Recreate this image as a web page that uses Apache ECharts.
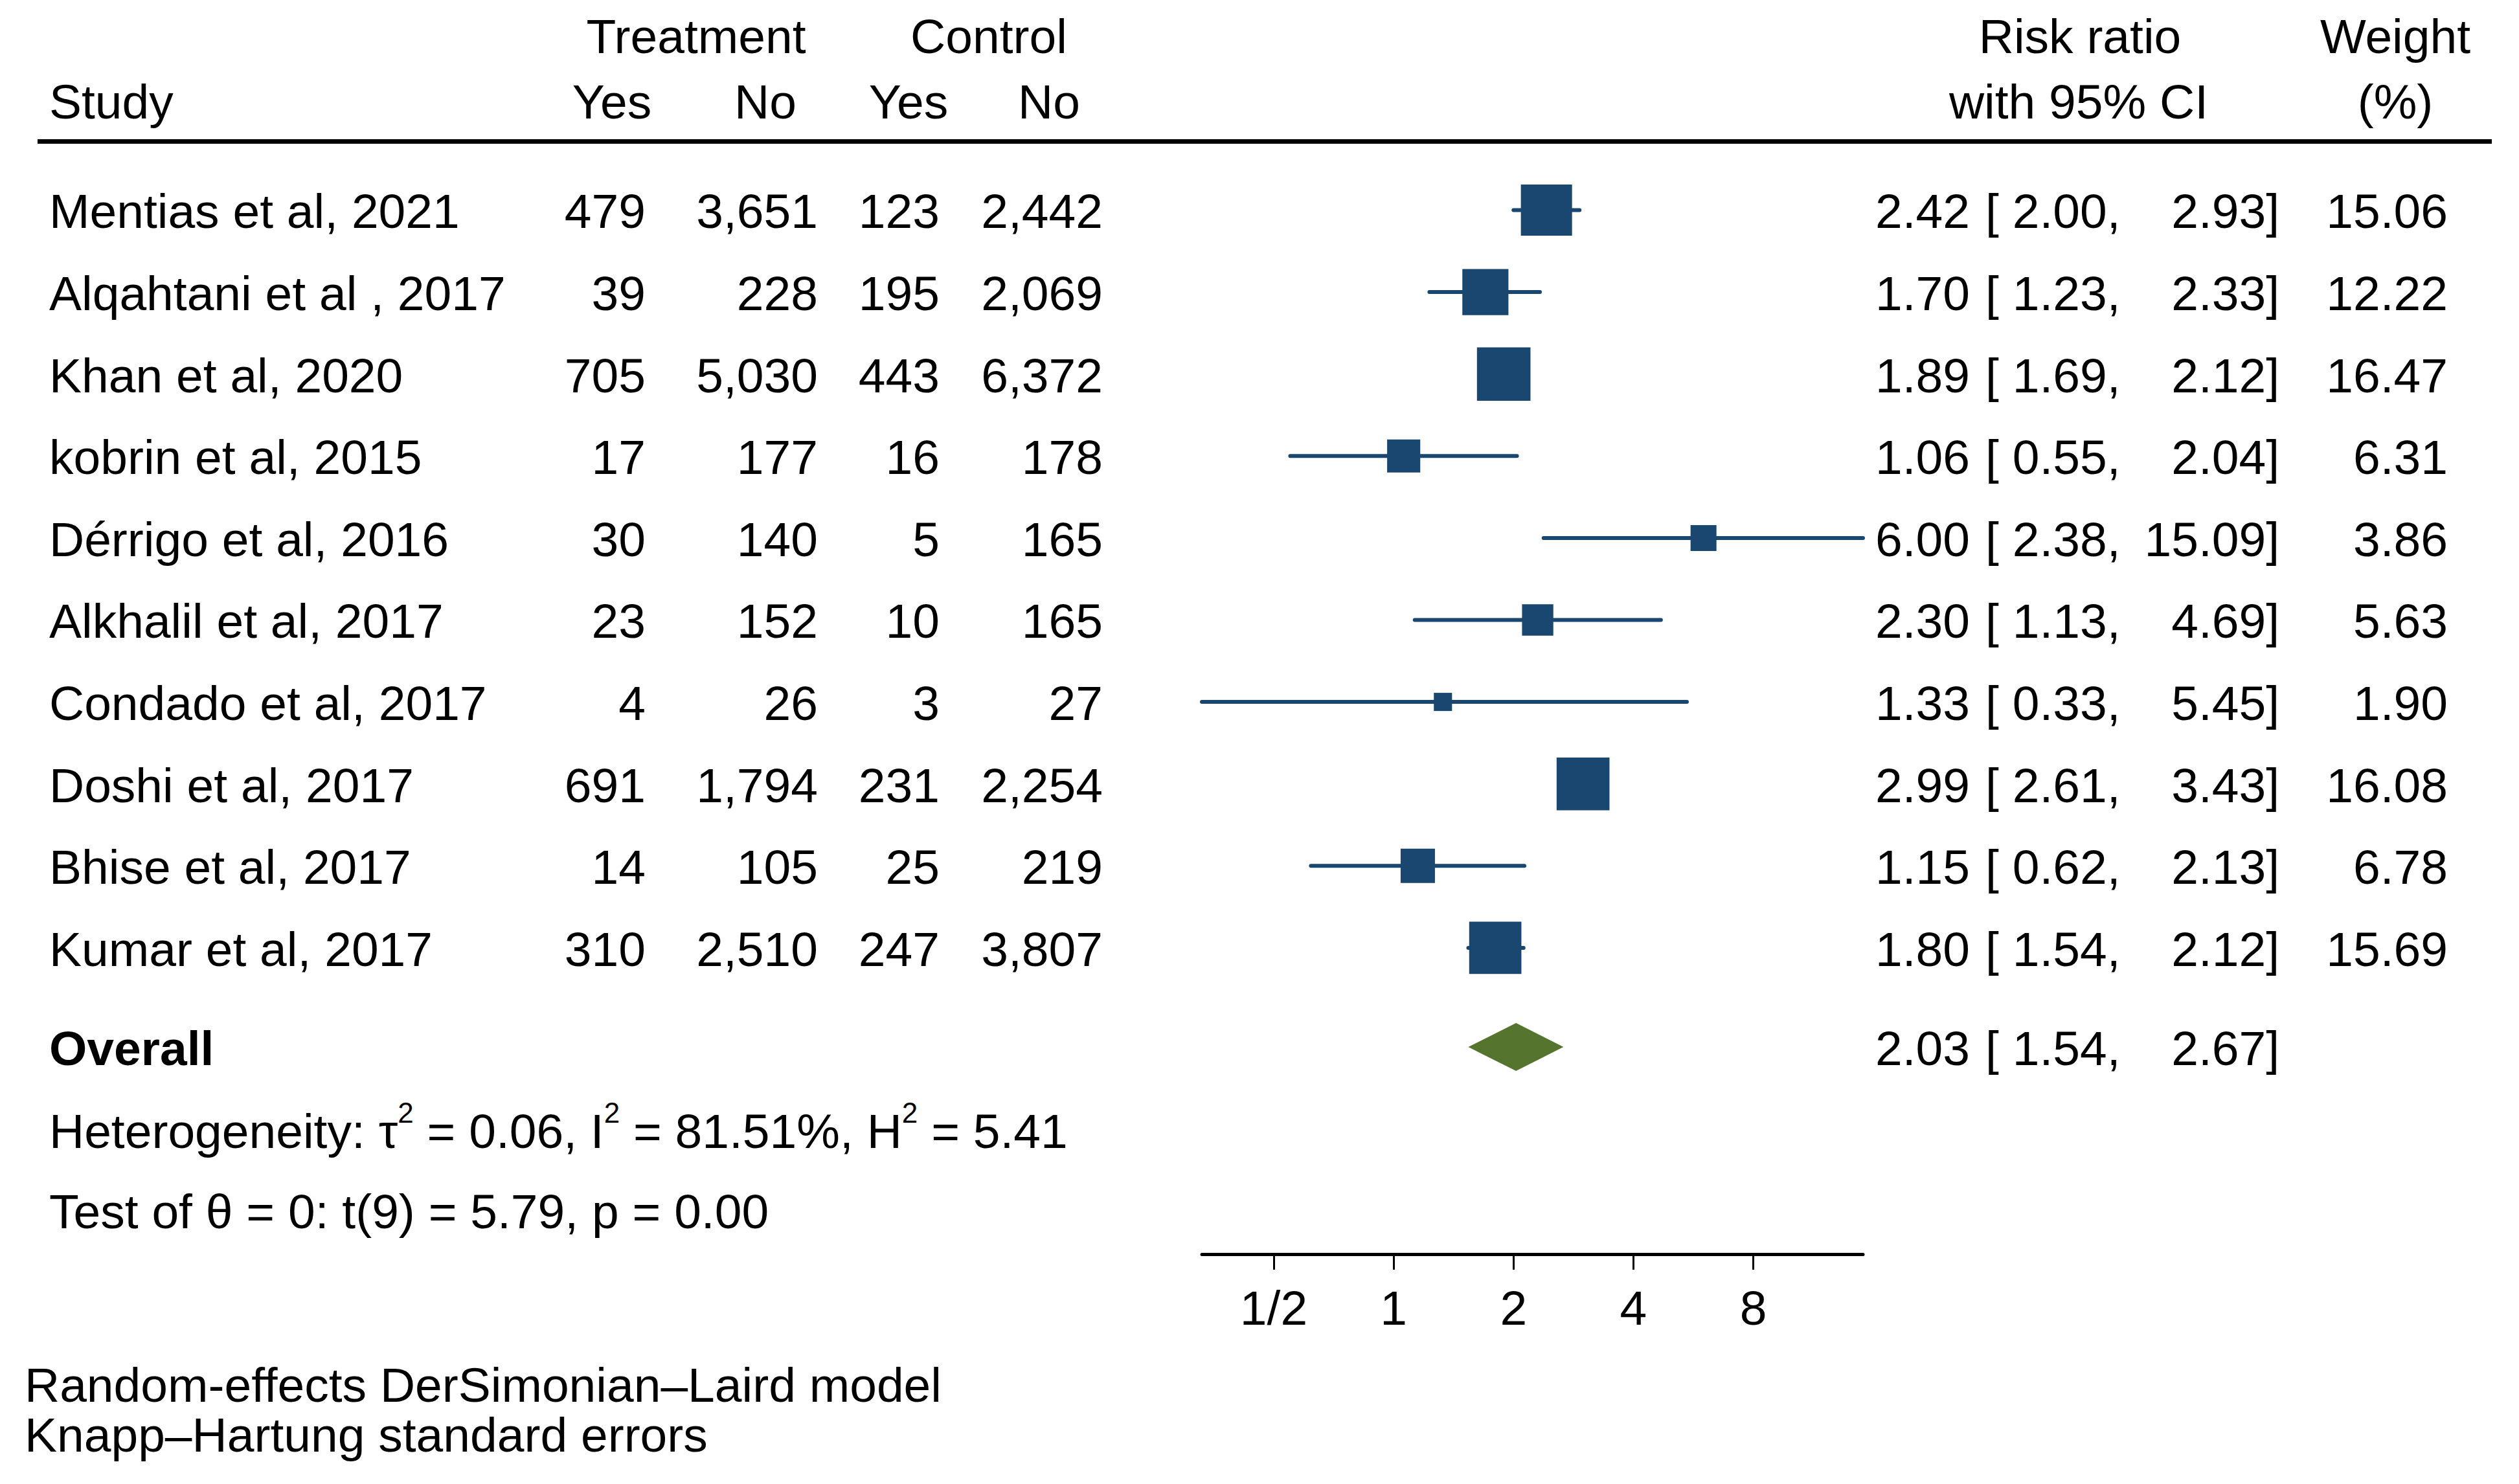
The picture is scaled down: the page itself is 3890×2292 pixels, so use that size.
<!DOCTYPE html>
<html>
<head>
<meta charset="utf-8">
<script src="https://cdn.jsdelivr.net/npm/echarts@6/dist/echarts.min.js"></script>
<style>
html,body{margin:0;padding:0;background:#ffffff;}
#chart{width:3890px;height:2292px;}
</style>
</head>
<body>
<div id="chart"></div>
<script>
// ---------------- data ----------------
const studies = ['Mentias et al, 2021','Alqahtani et al , 2017','Khan et al, 2020','kobrin et al, 2015','Dérrigo et al, 2016','Alkhalil et al, 2017','Condado et al, 2017','Doshi et al, 2017','Bhise et al, 2017','Kumar et al, 2017'];
const treatYes = [479, 39, 705, 17, 30, 23, 4, 691, 14, 310];
const treatNo  = [3651, 228, 5030, 177, 140, 152, 26, 1794, 105, 2510];
const ctrlYes  = [123, 195, 443, 16, 5, 10, 3, 231, 25, 247];
const ctrlNo   = [2442, 2069, 6372, 178, 165, 165, 27, 2254, 219, 3807];
const rr       = [2.42, 1.70, 1.89, 1.06, 6.00, 2.30, 1.33, 2.99, 1.15, 1.80];
const rrLow    = [2.00, 1.23, 1.69, 0.55, 2.38, 1.13, 0.33, 2.61, 0.62, 1.54];
const rrHigh   = [2.93, 2.33, 2.12, 2.04, 15.09, 4.69, 5.45, 3.43, 2.13, 2.12];
const weight   = [15.06, 12.22, 16.47, 6.31, 3.86, 5.63, 1.90, 16.08, 6.78, 15.69];
const overallRR = [2.03, 1.54, 2.67];   // estimate, low, high
const tickValues = [0.5, 1, 2, 4, 8];
const tickLabels = ['1/2', '1', '2', '4', '8'];
const hetStats = ['0.06', '81.51%', '5.41']; // tau2, I2, H2
const testText = 'Test of θ = 0: t(9) = 5.79, p = 0.00';
const notes = ['Random-effects DerSimonian–Laird model', 'Knapp–Hartung standard errors'];

// ---------------- layout / style ----------------
const FF = '"Liberation Sans", Arial, Helvetica, sans-serif';
const FS = 75;
const FONT = FS + 'px ' + FF;
const BOLD = 'bold ' + FS + 'px ' + FF;
const NAVY = '#1a476f';
const GREEN = '#55752f';
const ROW_OVERALL = 10.21, ROW_HET = 11.22, ROW_TEST = 12.2;
const TEXT_DY = 2;
const SQ = 20.36;        // square side per sqrt(weight)
const DIAMOND_HALF_H = 37;

const COL = {study: 76, tYes: 997, tNo: 1263, cYes: 1451, cNo: 1703,
             est: 3042, lo: 3066, hi: 3520, wt: 3780};

const fmtInt = v => v.toLocaleString('en-US');
const f2 = v => v.toFixed(2);

function txt(text, x, y, align, font) {
  return {type: 'text', style: {text: text, x: x, y: y, align: align, verticalAlign: 'middle', font: font || FONT, fill: '#000'}};
}

const chart = echarts.init(document.getElementById('chart'), null, {renderer: 'svg'});

const gridTop = 197.9, gridH = 1739.1;

const option = {
  backgroundColor: '#ffffff',
  animation: false,
  grid: {left: 1856, width: 1021, top: gridTop, height: gridH, containLabel: false},
  xAxis: {
    type: 'log', logBase: 2, min: 0.33, max: 15.09,
    axisLine: {show: true, onZero: false, lineStyle: {color: '#000', width: 5}},
    axisTick: {show: true, length: 24, customValues: tickValues, lineStyle: {color: '#000', width: 3}},
    axisLabel: {
      show: true, customValues: tickValues, margin: 45, color: '#000', fontSize: FS, fontFamily: FF,
      formatter: function (v) {
        let best = 0;
        tickValues.forEach((t, k) => { if (Math.abs(Math.log(t) - Math.log(v)) < Math.abs(Math.log(tickValues[best]) - Math.log(v))) best = k; });
        return tickLabels[best];
      }
    },
    splitLine: {show: false}
  },
  yAxis: {type: 'value', inverse: true, min: -1, max: 12.737, show: false},
  graphic: [
    {type: 'line', shape: {x1: 58, y1: 218.5, x2: 3848, y2: 218.5}, style: {stroke: '#000', lineWidth: 7}},
    txt('Treatment', 1075, 56, 'center'),
    txt('Control', 1527, 56, 'center'),
    txt('Risk ratio', 3212, 56, 'center'),
    txt('Weight', 3699, 56, 'center'),
    txt('Study', 76, 157, 'left'),
    txt('Yes', 945, 157, 'center'),
    txt('No', 1182, 157, 'center'),
    txt('Yes', 1403, 157, 'center'),
    txt('No', 1620, 157, 'center'),
    txt('with 95% CI', 3210, 157, 'center'),
    txt('(%)', 3699, 157, 'center'),
    txt(notes[0], 38, 2139, 'left'),
    txt(notes[1], 38, 2216, 'left')
  ],
  series: [
    {
      // confidence intervals and weight squares
      type: 'custom', clip: false,
      data: studies.map((s, i) => [rr[i], rrLow[i], rrHigh[i], weight[i], i]),
      encode: {x: [0, 1, 2], y: 4},
      renderItem: function (params, api) {
        const y = api.value(4);
        const pL = api.coord([api.value(1), y]);
        const pH = api.coord([api.value(2), y]);
        const pC = api.coord([api.value(0), y]);
        const side = SQ * Math.sqrt(api.value(3));
        return {type: 'group', children: [
          {type: 'line', shape: {x1: pL[0], y1: pL[1], x2: pH[0], y2: pH[1]}, style: {stroke: NAVY, lineWidth: 6, lineCap: 'round'}},
          {type: 'rect', shape: {x: pC[0] - side / 2, y: pC[1] - side / 2, width: side, height: side}, style: {fill: NAVY}}
        ]};
      }
    },
    {
      // overall diamond
      type: 'custom', clip: false,
      data: [[overallRR[0], overallRR[1], overallRR[2], ROW_OVERALL]],
      encode: {x: [0, 1, 2], y: 3},
      renderItem: function (params, api) {
        const y = api.value(3);
        const pL = api.coord([api.value(1), y]);
        const pH = api.coord([api.value(2), y]);
        const pC = api.coord([api.value(0), y]);
        return {type: 'polygon', shape: {points: [[pL[0], pL[1]], [pC[0], pC[1] - DIAMOND_HALF_H], [pH[0], pH[1]], [pC[0], pC[1] + DIAMOND_HALF_H]]}, style: {fill: GREEN}};
      }
    },
    {
      // study table text
      type: 'custom', clip: false, silent: true,
      data: studies.map((s, i) => [1, i]),
      encode: {x: 0, y: 1},
      renderItem: function (params, api) {
        const i = params.dataIndex;
        const y = api.coord([1, api.value(1)])[1] + TEXT_DY;
        return {type: 'group', children: [
          txt(studies[i], COL.study, y, 'left'),
          txt(fmtInt(treatYes[i]), COL.tYes, y, 'right'),
          txt(fmtInt(treatNo[i]), COL.tNo, y, 'right'),
          txt(fmtInt(ctrlYes[i]), COL.cYes, y, 'right'),
          txt(fmtInt(ctrlNo[i]), COL.cNo, y, 'right'),
          txt(f2(rr[i]), COL.est, y, 'right'),
          txt('[ ' + f2(rrLow[i]) + ',', COL.lo, y, 'left'),
          txt(f2(rrHigh[i]) + ']', COL.hi, y, 'right'),
          txt(f2(weight[i]), COL.wt, y, 'right')
        ]};
      }
    },
    {
      // overall / heterogeneity / test rows
      type: 'custom', clip: false, silent: true,
      data: [[1, ROW_OVERALL]],
      encode: {x: 0, y: 1},
      renderItem: function (params, api) {
        const yO = api.coord([1, ROW_OVERALL])[1] + TEXT_DY;
        const yH = api.coord([1, ROW_HET])[1] + TEXT_DY;
        const yT = api.coord([1, ROW_TEST])[1] + TEXT_DY;
        return {type: 'group', children: [
          txt('Overall', COL.study, yO, 'left', BOLD),
          txt(f2(overallRR[0]), COL.est, yO, 'right'),
          txt('[ ' + f2(overallRR[1]) + ',', COL.lo, yO, 'left'),
          txt(f2(overallRR[2]) + ']', COL.hi, yO, 'right'),
          {type: 'text', style: {
            text: '{n|Heterogeneity: τ}{s|2}{n| = ' + hetStats[0] + ', I}{s|2}{n| = ' + hetStats[1] + ', H}{s|2}{n| = ' + hetStats[2] + '}',
            x: COL.study, y: yH, align: 'left', verticalAlign: 'middle', fill: '#000',
            rich: {
              n: {fontSize: FS, fontFamily: FF, lineHeight: 100, fill: '#000'},
              s: {fontSize: 44, fontFamily: FF, lineHeight: 44, verticalAlign: 'top', fill: '#000'}
            }
          }},
          txt(testText, COL.study, yT, 'left')
        ]};
      }
    }
  ]
};
chart.setOption(option);
</script>
</body>
</html>
